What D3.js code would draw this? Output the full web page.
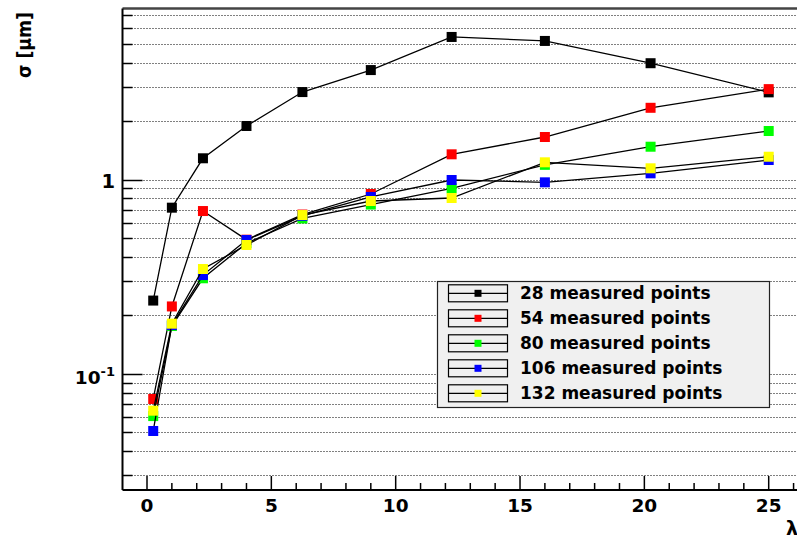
<!DOCTYPE html>
<html><head><meta charset="utf-8">
<script src="https://cdn.jsdelivr.net/npm/d3@7"></script>
<style>body{margin:0;background:#fff}svg{display:block}text{font-family:"DejaVu Sans",sans-serif;font-weight:bold}</style>
</head><body>
<svg id="c" width="797" height="540"></svg>
<script>
const lambda = [0.25, 1, 2.25, 4, 6.25, 9, 12.25, 16, 20.25, 25];
const s28  = [0.238, 0.716, 1.286, 1.886, 2.82, 3.66, 5.42, 5.17, 3.97, 2.81];
const s54  = [0.0741, 0.222, 0.688, 0.49, 0.66, 0.842, 1.348, 1.655, 2.34, 2.92];
const s80  = [0.0605, 0.176, 0.310, 0.47, 0.63, 0.743, 0.901, 1.19, 1.475, 1.777];
const s106 = [0.0507, 0.178, 0.322, 0.488, 0.65, 0.813, 0.994, 0.967, 1.076, 1.26];
const s132 = [0.0645, 0.181, 0.346, 0.460, 0.656, 0.775, 0.803, 1.226, 1.142, 1.31];
const seriesNames = ["28 measured points","54 measured points","80 measured points","106 measured points","132 measured points"];
const seriesColors = ["#000000","#ff0000","#00ff00","#0000ff","#ffff00"];
const xTicks = [0,5,10,15,20,25];
const yGrid = [0.03,0.04,0.05,0.06,0.07,0.08,0.09,0.1,0.2,0.3,0.4,0.5,0.6,0.7,0.8,0.9,1,2,3,4,5,6,7];
const yMajor = [0.1, 1];

const allSeries = [s28,s54,s80,s106,s132];
const svg = d3.select("#c");
const L = 122.5, T = 8.5, B = 490;
const x = d3.scaleLinear().domain([0,25]).range([147,768.7]);
const y = d3.scaleLog().domain([0.1,1]).range([373.7,179.5]);

// grid
svg.append("g").selectAll("line").data(yGrid).join("line")
  .attr("x1",L).attr("x2",797).attr("y1",d=>Math.round(y(d))+0.5).attr("y2",d=>Math.round(y(d))+0.5)
  .attr("stroke","#000").attr("stroke-width",1).attr("stroke-dasharray","1,2");

// frame
svg.append("line").attr("x1",L).attr("x2",797).attr("y1",T).attr("y2",T).attr("stroke","#444").attr("stroke-width",2.5);
svg.append("line").attr("x1",L).attr("x2",L).attr("y1",T).attr("y2",B).attr("stroke","#000").attr("stroke-width",2);
svg.append("line").attr("x1",L).attr("x2",797).attr("y1",B).attr("y2",B).attr("stroke","#000").attr("stroke-width",2);

// y ticks
svg.append("g").selectAll("line").data(yGrid).join("line")
  .attr("x1",L).attr("x2",d=>yMajor.includes(d)?L+20:L+10)
  .attr("y1",d=>Math.round(y(d))+0.5).attr("y2",d=>Math.round(y(d))+0.5)
  .attr("stroke","#000").attr("stroke-width",1.5);
// x ticks
const xMinor = d3.range(0,27,1);
svg.append("g").selectAll("line").data(xMinor).join("line")
  .attr("x1",d=>x(d)).attr("x2",d=>x(d))
  .attr("y1",B).attr("y2",d=>d%5===0?B-14:B-7)
  .attr("stroke","#000").attr("stroke-width",1.5);

// labels
svg.append("g").selectAll("text").data(xTicks).join("text")
  .attr("x",d=>x(d)).attr("y",511.5).attr("text-anchor","middle")
  .attr("font-size",18.5).text(d=>d);
svg.append("text").attr("x",115).attr("y",188).attr("text-anchor","end").attr("font-size",19.5).text("1");
const t10 = svg.append("text").attr("x",115).attr("y",383.5).attr("text-anchor","end").attr("font-size",18.5);
t10.append("tspan").text("10");
t10.append("tspan").attr("font-size",13).attr("dy",-8).text("-1");
svg.append("text").attr("transform","translate(31,12) rotate(-90)").attr("text-anchor","end")
  .attr("font-size",20).attr("textLength",66).attr("lengthAdjust","spacingAndGlyphs").text("σ [μm]");
svg.append("text").attr("x",786).attr("y",535).attr("text-anchor","start").attr("font-size",19).text("λ");

// series
svg.append("clipPath").attr("id","clp").append("rect").attr("x",L).attr("y",T).attr("width",797-L).attr("height",B-T);
const plot = svg.append("g").attr("clip-path","url(#clp)");
const line = d3.line().x((d,i)=>x(lambda[i])).y(d=>y(d));
const ms = 10;
allSeries.forEach((s,k)=>{
  plot.append("path").attr("d",line(s)).attr("fill","none").attr("stroke","#000").attr("stroke-width",1.3);
  plot.append("g").selectAll("rect").data(s).join("rect")
    .attr("x",(d,i)=>x(lambda[i])-ms/2).attr("y",d=>y(d)-ms/2)
    .attr("width",ms).attr("height",ms).attr("fill",seriesColors[k]);
});

// legend
const lg = svg.append("g");
lg.append("rect").attr("x",437.5).attr("y",281.5).attr("width",332).attr("height",126)
  .attr("fill","#f0f0f0").attr("stroke","#222").attr("stroke-width",1.2);
seriesNames.forEach((n,k)=>{
  const cy = 293.3 + k*25;
  lg.append("rect").attr("x",448.5).attr("y",cy-8.5).attr("width",59).attr("height",17)
    .attr("fill","none").attr("stroke","#000").attr("stroke-width",1.2);
  lg.append("line").attr("x1",448.5).attr("x2",507.5).attr("y1",cy).attr("y2",cy).attr("stroke","#000").attr("stroke-width",1.2);
  lg.append("rect").attr("x",478-3.5).attr("y",cy-3.5).attr("width",7).attr("height",7).attr("fill",seriesColors[k]);
  lg.append("text").attr("x",520).attr("y",cy+5.5).attr("font-size",17).text(n);
});
</script>
</body></html>
